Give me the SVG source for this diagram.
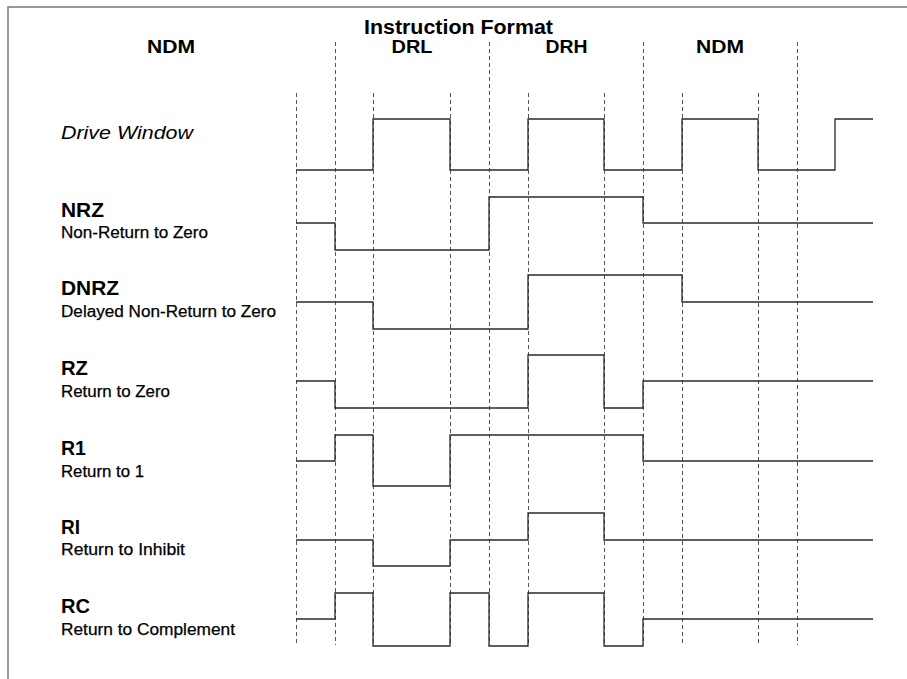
<svg xmlns="http://www.w3.org/2000/svg" width="907" height="679" viewBox="0 0 907 679">
<style>
.frame{fill:none;stroke:#777;stroke-width:1.5}
.grid line{stroke:#555;stroke-width:1;stroke-dasharray:4,3}
.wave{fill:none;stroke:#2a2a2a;stroke-width:1.3}
.hdr{font-family:"Liberation Sans",Arial,sans-serif;font-weight:bold;font-size:19px;fill:#000;text-anchor:middle}
.title{font-family:"Liberation Sans",Arial,sans-serif;font-weight:bold;font-size:20px;fill:#000}
.name{font-family:"Liberation Sans",Arial,sans-serif;font-weight:bold;font-size:20px;fill:#000}
.desc{font-family:"Liberation Sans",Arial,sans-serif;font-size:16px;fill:#000;stroke:#000;stroke-width:0.25}
.ital{font-family:"Liberation Sans",Arial,sans-serif;font-style:italic;font-size:19px;fill:#000}
</style>
<rect width="907" height="679" fill="#fff"/>
<path class="frame" d="M8,679 V7 H907"/>
<g id="header">
<text class="title" x="364" y="34" textLength="189" lengthAdjust="spacingAndGlyphs">Instruction Format</text>
<text class="hdr" x="171" y="53" textLength="48" lengthAdjust="spacingAndGlyphs">NDM</text>
<text class="hdr" x="412" y="53" textLength="41" lengthAdjust="spacingAndGlyphs">DRL</text>
<text class="hdr" x="566.5" y="53" textLength="42" lengthAdjust="spacingAndGlyphs">DRH</text>
<text class="hdr" x="720" y="53" textLength="48" lengthAdjust="spacingAndGlyphs">NDM</text>
</g>
<g id="grid" class="grid">
<line x1="296.5" y1="93" x2="296.5" y2="645"/>
<line x1="335.5" y1="42" x2="335.5" y2="645"/>
<line x1="373.5" y1="93" x2="373.5" y2="645"/>
<line x1="450.5" y1="93" x2="450.5" y2="645"/>
<line x1="489.5" y1="42" x2="489.5" y2="645"/>
<line x1="528.5" y1="93" x2="528.5" y2="645"/>
<line x1="604.5" y1="93" x2="604.5" y2="645"/>
<line x1="643.5" y1="42" x2="643.5" y2="645"/>
<line x1="682.5" y1="93" x2="682.5" y2="645"/>
<line x1="758.5" y1="93" x2="758.5" y2="645"/>
<line x1="797.5" y1="42" x2="797.5" y2="645"/>
</g>
<g id="drive-window">
<text class="ital" x="61" y="139" textLength="132" lengthAdjust="spacingAndGlyphs">Drive Window</text>
<path class="wave" d="M296,170 H373 V119 H450 V170 H528 V119 H604 V170 H682 V119 H758 V170 H835 V119 H873"/>
</g>
<g id="nrz">
<text class="name" x="61" y="217" textLength="43" lengthAdjust="spacingAndGlyphs">NRZ</text>
<text class="desc" x="61" y="238" textLength="147" lengthAdjust="spacingAndGlyphs">Non-Return to Zero</text>
<path class="wave" d="M296,223 H335 V250 H489 V197 H643 V223 H873"/>
</g>
<g id="dnrz">
<text class="name" x="61" y="295" textLength="58" lengthAdjust="spacingAndGlyphs">DNRZ</text>
<text class="desc" x="61" y="316.5" textLength="215" lengthAdjust="spacingAndGlyphs">Delayed Non-Return to Zero</text>
<path class="wave" d="M296,302 H373 V329 H528 V275 H682 V302 H873"/>
</g>
<g id="rz">
<text class="name" x="61" y="375" textLength="27" lengthAdjust="spacingAndGlyphs">RZ</text>
<text class="desc" x="61" y="396.5" textLength="109" lengthAdjust="spacingAndGlyphs">Return to Zero</text>
<path class="wave" d="M296,381 H335 V408 H528 V355 H604 V408 H643 V381 H873"/>
</g>
<g id="r1">
<text class="name" x="61" y="455" textLength="25" lengthAdjust="spacingAndGlyphs">R1</text>
<text class="desc" x="61" y="476.5" textLength="83" lengthAdjust="spacingAndGlyphs">Return to 1</text>
<path class="wave" d="M296,461 H335 V435 H373 V486 H450 V435 H643 V461 H873"/>
</g>
<g id="ri">
<text class="name" x="61" y="533.5" textLength="19" lengthAdjust="spacingAndGlyphs">RI</text>
<text class="desc" x="61" y="555" textLength="124" lengthAdjust="spacingAndGlyphs">Return to Inhibit</text>
<path class="wave" d="M296,540 H373 V566 H450 V540 H528 V513 H604 V540 H873"/>
</g>
<g id="rc">
<text class="name" x="61" y="613" textLength="29" lengthAdjust="spacingAndGlyphs">RC</text>
<text class="desc" x="61" y="634.5" textLength="174" lengthAdjust="spacingAndGlyphs">Return to Complement</text>
<path class="wave" d="M296,619 H335 V593 H373 V646 H450 V593 H489 V646 H528 V593 H604 V646 H643 V619 H873"/>
</g>
</svg>
